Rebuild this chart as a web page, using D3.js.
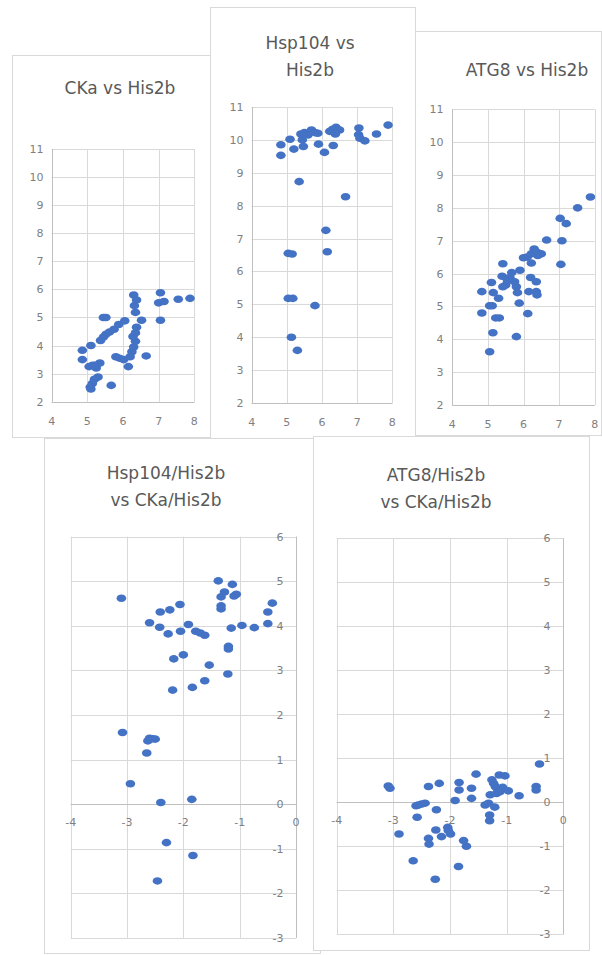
<!DOCTYPE html>
<html>
<head>
<meta charset="utf-8">
<script src="https://cdn.jsdelivr.net/npm/d3@7"></script>
<style>
  body { margin: 0; background: #fff; }
  text { font-family: "DejaVu Sans", sans-serif; }
</style>
</head>
<body>
<script>
// ---- data ----
// top row: x = His2b, y = gene
var ckaVsHis2b = [
  [4.86,3.83],[4.86,3.5],[5.1,4.0],[5.05,3.25],[5.15,3.3],[5.25,3.2],[5.35,3.38],[5.22,3.3],
  [5.3,2.88],[5.2,2.8],[5.14,2.65],[5.08,2.52],[5.1,2.45],[5.67,2.58],[5.45,5.0],[5.52,5.0],
  [5.37,4.18],[5.45,4.3],[5.52,4.4],[5.62,4.48],[5.75,4.58],[5.88,4.75],[6.05,4.88],[5.8,3.6],
  [5.9,3.55],[6.02,3.5],[6.15,3.25],[6.2,3.6],[6.25,3.78],[6.3,3.95],[6.35,4.15],[6.28,4.32],
  [6.35,4.45],[6.38,4.65],[6.52,4.9],[6.35,5.18],[6.32,5.42],[6.38,5.62],[6.3,5.8],[6.65,3.63],
  [7.05,5.88],[7.0,5.52],[7.15,5.57],[7.55,5.65],[7.88,5.68],[7.05,4.9]
];
var hsp104VsHis2b = [
  [4.83,9.85],[4.83,9.53],[5.09,10.02],[5.2,9.72],[5.35,8.73],[5.04,6.55],[5.15,6.53],[5.04,5.18],
  [5.17,5.18],[5.13,4.0],[5.3,3.6],[5.8,4.96],[6.11,7.25],[6.15,6.6],[6.67,8.27],[6.07,9.62],
  [5.9,9.87],[6.32,9.83],[5.47,9.8],[5.44,10.0],[5.4,10.18],[5.5,10.22],[5.6,10.15],[5.7,10.3],
  [5.8,10.22],[5.88,10.2],[6.22,10.26],[6.3,10.32],[6.4,10.38],[6.5,10.3],[6.38,10.18],[7.05,10.36],
  [7.04,10.16],[7.08,10.05],[7.22,9.97],[7.55,10.18],[7.88,10.45]
];
var atg8VsHis2b = [
  [7.88,8.33],[7.52,8.0],[7.03,7.68],[7.2,7.52],[6.65,7.02],[7.08,7.0],[7.05,6.28],[6.0,6.48],
  [6.1,6.5],[6.22,6.6],[6.3,6.75],[6.38,6.65],[6.5,6.6],[6.22,6.32],[6.4,6.55],[5.42,6.3],
  [5.4,5.92],[5.62,5.88],[5.67,6.03],[5.9,6.1],[5.5,5.65],[5.75,5.75],[5.8,5.6],[5.83,5.42],
  [5.42,5.6],[5.1,5.73],[5.15,5.42],[5.3,5.25],[4.83,5.45],[5.05,5.02],[5.12,5.02],[4.83,4.8],
  [5.22,4.65],[5.32,4.65],[5.14,4.2],[5.05,3.62],[5.8,4.08],[5.88,5.1],[6.12,4.78],[6.2,5.88],
  [6.36,5.75],[6.15,5.45],[6.36,5.45],[6.38,5.35],[5.55,5.78]
];
// bottom row: x = CKa/His2b
var hsp104RatioVsCka = [
  [-3.1,4.62],[-2.6,4.07],[-2.42,3.97],[-2.41,4.31],[-2.24,4.36],[-2.06,4.48],[-2.27,3.82],[-2.05,3.88],
  [-1.91,4.03],[-1.78,3.88],[-1.7,3.84],[-1.62,3.79],[-2.17,3.26],[-2.0,3.35],[-2.19,2.56],[-1.84,2.62],
  [-1.62,2.77],[-1.54,3.12],[-1.21,2.92],[-1.2,3.54],[-1.2,3.48],[-1.15,3.95],[-0.96,4.01],[-0.74,3.96],
  [-0.5,4.05],[-0.5,4.31],[-0.42,4.51],[-1.38,5.01],[-1.13,4.93],[-1.27,4.76],[-1.33,4.65],[-1.06,4.71],
  [-1.1,4.67],[-1.33,4.45],[-1.33,4.38],[-3.08,1.61],[-2.6,1.48],[-2.55,1.47],[-2.5,1.46],[-2.63,1.42],
  [-2.65,1.15],[-2.94,0.46],[-2.4,0.04],[-1.85,0.11],[-2.3,-0.86],[-1.83,-1.15],[-2.46,-1.72]
];
var atg8RatioVsCka = [
  [-3.09,0.37],[-3.06,0.32],[-2.9,-0.72],[-2.65,-1.33],[-2.6,-0.08],[-2.56,-0.06],[-2.5,-0.04],[-2.44,-0.02],
  [-2.58,-0.34],[-2.38,0.36],[-2.19,0.43],[-2.24,-0.17],[-2.25,-0.63],[-2.38,-0.82],[-2.37,-0.95],[-2.15,-0.78],
  [-2.26,-1.75],[-2.04,-0.57],[-2.03,-0.64],[-1.99,-0.72],[-1.91,0.04],[-1.84,0.45],[-1.84,0.28],[-1.76,-0.87],
  [-1.71,-1.0],[-1.85,-1.46],[-1.62,0.32],[-1.62,0.09],[-1.54,0.64],[-1.38,-0.06],[-1.32,-0.02],[-1.29,0.17],
  [-1.26,0.51],[-1.23,0.43],[-1.2,0.36],[-1.17,0.32],[-1.13,0.62],[-1.03,0.6],[-1.07,0.34],[-1.12,0.24],
  [-1.18,0.2],[-0.97,0.26],[-1.21,-0.11],[-1.3,-0.29],[-1.3,-0.42],[-0.78,0.15],[-0.48,0.36],[-0.48,0.28],
  [-0.42,0.87]
];

var topXTicks = [4, 5, 6, 7, 8];
var topYTicks = [2, 3, 4, 5, 6, 7, 8, 9, 10, 11];
var bottomXTicks = [-4, -3, -2, -1, 0];
var bottomYTicks = [-3, -2, -1, 0, 1, 2, 3, 4, 5, 6];

// ---- layout ----
var panels = [
  { data: ckaVsHis2b, title: ["CKa vs His2b"], tx: 120, ty: 94,
    frame: [12, 55, 215, 382], xr: [51.7, 194.3], yr: [401.7, 149], zero: false },
  { data: hsp104VsHis2b, title: ["Hsp104 vs", "His2b"], tx: 310, ty: 49,
    frame: [210, 7, 205, 431], xr: [251.7, 392.3], yr: [403, 107], zero: false },
  { data: atg8VsHis2b, title: ["ATG8 vs His2b"], tx: 527, ty: 76,
    frame: [415, 31, 186, 404], xr: [452.3, 594.7], yr: [405, 109.3], zero: false },
  { data: hsp104RatioVsCka, title: ["Hsp104/His2b", "vs CKa/His2b"], tx: 166, ty: 479,
    frame: [44, 438, 276, 515], xr: [70.7, 296], yr: [938, 536.7], zero: true },
  { data: atg8RatioVsCka, title: ["ATG8/His2b", "vs CKa/His2b"], tx: 436, ty: 481,
    frame: [313, 436, 276, 514], xr: [336.7, 563.3], yr: [934.3, 538.3], zero: true }
];

var svg = d3.select("body").append("svg")
    .attr("width", 602)
    .attr("height", 955);

panels.forEach(function(p) {
  var g = svg.append("g");
  var xt = p.zero ? bottomXTicks : topXTicks;
  var yt = p.zero ? bottomYTicks : topYTicks;

  var x = d3.scaleLinear().domain([xt[0], xt[xt.length - 1]]).range(p.xr);
  var y = d3.scaleLinear().domain([yt[0], yt[yt.length - 1]]).range(p.yr);

  // chart box
  g.append("rect")
    .attr("x", p.frame[0] + 0.5).attr("y", p.frame[1] + 0.5)
    .attr("width", p.frame[2]).attr("height", p.frame[3])
    .attr("fill", "#fff").attr("stroke", "#d9d9d9");

  // title
  g.append("text")
    .attr("x", p.tx).attr("y", p.ty)
    .attr("text-anchor", "middle")
    .attr("font-size", "17px")
    .attr("fill", "#595959")
    .selectAll("tspan")
    .data(p.title)
    .enter().append("tspan")
      .attr("x", p.tx)
      .attr("dy", function(d, i) { return i ? 27 : 0; })
      .text(function(d) { return d; });

  // gridlines
  g.append("g").selectAll("line")
    .data(xt).enter().append("line")
      .attr("x1", function(d) { return Math.round(x(d)) + 0.5; })
      .attr("x2", function(d) { return Math.round(x(d)) + 0.5; })
      .attr("y1", p.yr[1]).attr("y2", p.yr[0])
      .attr("stroke", "#d9d9d9");
  g.append("g").selectAll("line")
    .data(yt).enter().append("line")
      .attr("y1", function(d) { return Math.round(y(d)) + 0.5; })
      .attr("y2", function(d) { return Math.round(y(d)) + 0.5; })
      .attr("x1", p.xr[0]).attr("x2", p.xr[1])
      .attr("stroke", "#d9d9d9");

  // axis lines
  var ax = p.zero ? Math.round(y(0)) + 0.5 : Math.round(p.yr[0]) + 0.5;
  var ay = p.zero ? Math.round(x(0)) + 0.5 : Math.round(p.xr[0]) + 0.5;
  g.append("line").attr("x1", p.xr[0]).attr("x2", p.xr[1])
    .attr("y1", ax).attr("y2", ax).attr("stroke", "#bfbfbf");
  g.append("line").attr("x1", ay).attr("x2", ay)
    .attr("y1", p.yr[1]).attr("y2", p.yr[0]).attr("stroke", "#bfbfbf");

  // tick labels
  g.append("g").selectAll("text")
    .data(xt).enter().append("text")
      .attr("x", function(d) { return x(d); })
      .attr("y", ax + (p.zero ? 21 : 22))
      .attr("text-anchor", "middle")
      .attr("font-size", "11px")
      .attr("fill", "#7f7f7f")
      .text(function(d) { return d; });
  g.append("g").selectAll("text")
    .data(yt).enter().append("text")
      .attr("x", p.zero ? ay - 13 : ay - 9)
      .attr("y", function(d) { return y(d); })
      .attr("dy", "0.36em")
      .attr("text-anchor", "end")
      .attr("font-size", "11px")
      .attr("fill", "#7f7f7f")
      .text(function(d) { return d; });

  // points
  g.append("g").selectAll("ellipse")
    .data(p.data).enter().append("ellipse")
      .attr("cx", function(d) { return x(d[0]); })
      .attr("cy", function(d) { return y(d[1]); })
      .attr("rx", 4.8)
      .attr("ry", 3.8)
      .attr("fill", "#4472c4");
});
</script>
</body>
</html>
